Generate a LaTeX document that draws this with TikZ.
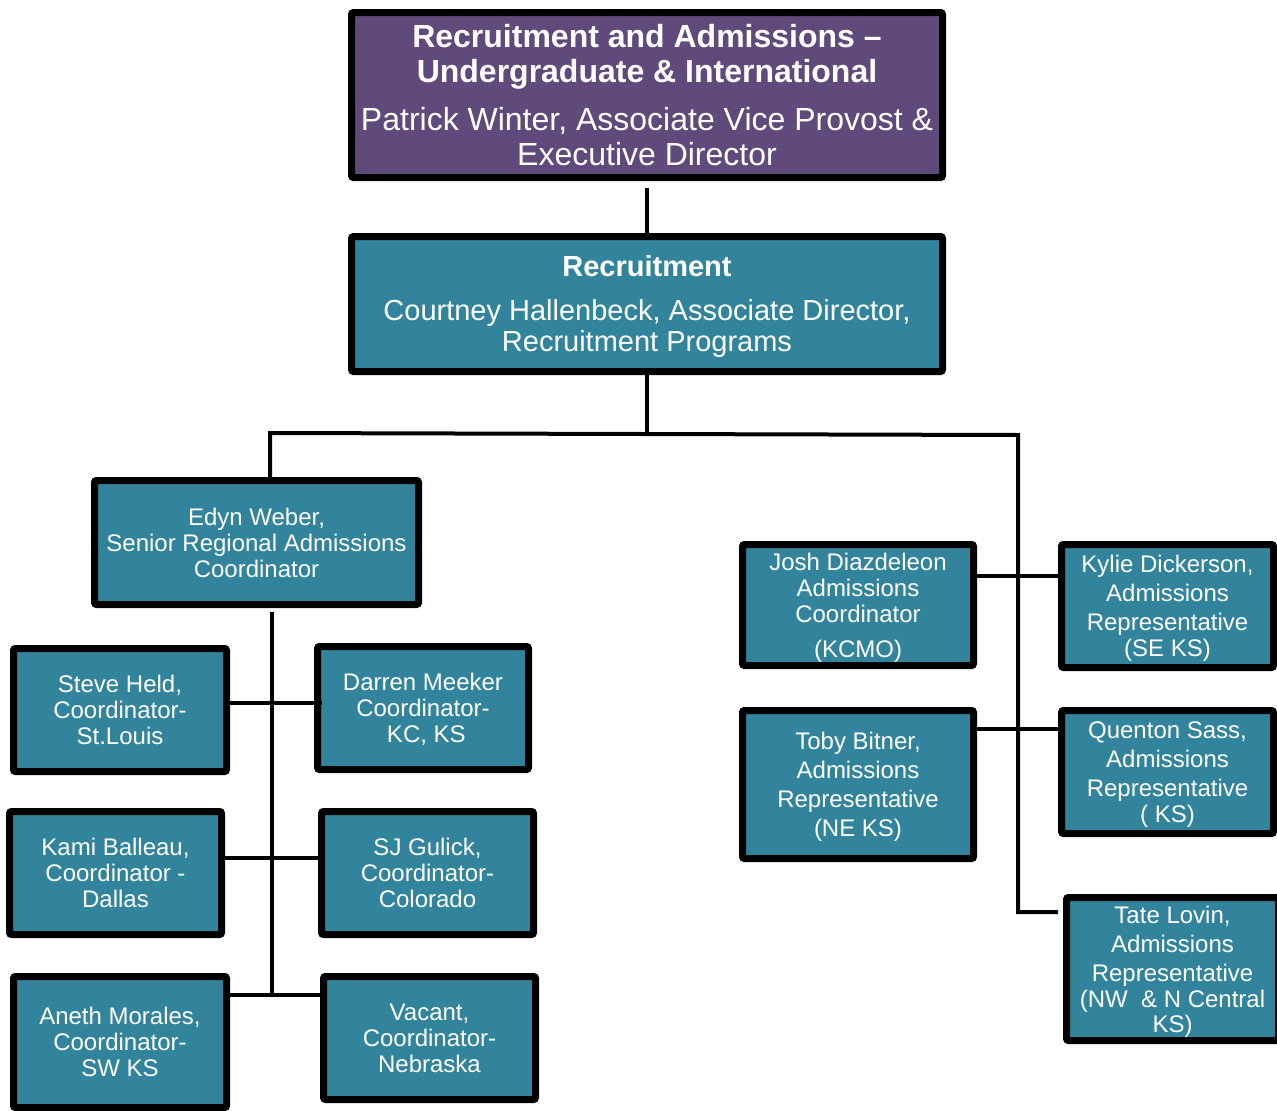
\documentclass[tikz,border=0pt]{standalone}
\usepackage{fontspec}
\setmainfont{Liberation Sans}
\definecolor{orgteal}{HTML}{31849B}
\definecolor{orgpurple}{HTML}{604A7B}
\newcommand\sttop{\rule{0pt}{.97em}}
\newcommand\stbot{\rule[-.25em]{0pt}{.25em}}
\begin{document}
\begin{tikzpicture}[x=1pt, y=-1pt,
    box/.style = {draw = black, line width = 7pt, rounded corners = 2pt, fill = orgteal,
        text = white, align = center, inner sep = 0pt},
    lbox/.style = {box, font = \fontsize{24}{26}\selectfont},
    rbox/.style = {box, font = \fontsize{24}{29}\selectfont},
    link/.style = {line width = 4pt}]
    \useasboundingbox (0,0) rectangle (1277,1111);
    \node [box, fill = orgpurple, minimum width = 591, minimum height = 165,
        font = \fontsize{32}{35}\selectfont] (head) at (647,95)
        {\sttop\textbf{Recruitment and Admissions --}\\ \textbf{Undergraduate \& International}\\[13pt]
         Patrick Winter, Associate Vice Provost \&\\ Executive Director\stbot};
    \node [box, minimum width = 591, minimum height = 135,
        font = \fontsize{29}{31}\selectfont] (recruit) at (647,304)
        {\sttop\textbf{Recruitment}\\[13pt] Courtney Hallenbeck, Associate Director,\\ Recruitment Programs\stbot};
    \node [lbox, minimum width = 324, minimum height = 124] (weber) at (256.5,542.5)
        {\sttop Edyn Weber,\\ Senior Regional Admissions\\ Coordinator\stbot};
    \node [lbox, minimum width = 213, minimum height = 123] (held) at (120,710)
        {\sttop Steve Held,\\ Coordinator-\\ St.Louis\stbot};
    \node [lbox, minimum width = 211, minimum height = 123] (meeker) at (423,708)
        {\sttop Darren Meeker\\ Coordinator-\\ \ KC, KS\stbot};
    \node [lbox, minimum width = 212, minimum height = 123] (balleau) at (115.5,873)
        {\sttop Kami Balleau,\\ Coordinator -\\ Dallas\stbot};
    \node [lbox, minimum width = 212, minimum height = 123] (gulick) at (427.5,873)
        {\sttop SJ Gulick,\\ Coordinator-\\ Colorado\stbot};
    \node [lbox, minimum width = 213, minimum height = 131] (morales) at (120,1042)
        {\sttop Aneth Morales,\\ Coordinator-\\ SW KS\stbot};
    \node [lbox, minimum width = 212, minimum height = 123] (vacant) at (429.5,1038)
        {\sttop Vacant,\\ Coordinator-\\ Nebraska\stbot};
    \node [lbox, minimum width = 231, minimum height = 121] (diaz) at (858,605)
        {\sttop Josh Diazdeleon\\ Admissions\\ Coordinator\\[9pt] (KCMO)\stbot};
    \node [rbox, minimum width = 212, minimum height = 123] (dickerson) at (1167.5,606)
        {\sttop Kylie Dickerson,\\ Admissions\\ Representative\\[-3pt] (SE KS)\stbot};
    \node [rbox, minimum width = 231, minimum height = 148] (bitner) at (858,784.5)
        {\sttop Toby Bitner,\\ Admissions\\ Representative\\ (NE KS)\stbot};
    \node [rbox, minimum width = 212, minimum height = 123] (sass) at (1167.5,772)
        {\sttop Quenton Sass,\\ Admissions\\ Representative\\[-3pt] ( KS)\stbot};
    \node [rbox, minimum width = 212, minimum height = 143] (lovin) at (1172.5,969)
        {\sttop Tate Lovin,\\ Admissions\\ Representative\\[-3pt] (NW\ \ \& N Central\\[-4pt] KS)\stbot};
    \coordinate (split) at (647,433);
    \coordinate (lsplit) at (270,433);
    \coordinate (rsplit) at (1018,435);
    \coordinate (rfoot) at (1018,912);
    \coordinate (lfoot) at (272,995);
    \draw [link] ([yshift = -7pt]head.south) -- (recruit.north);
    \draw [link] (recruit.south) -- (split);
    \draw [link] (weber.north -| lsplit) -- (lsplit) -- (rsplit) -- (rfoot) -- ++(40,0);
    \draw [link] ([yshift = -4pt]weber.south -| lfoot) -- (lfoot);
    \draw [link] (held.east |- 0,703) -- ([xshift = 8pt]meeker.west |- 0,703);
    \draw [link] (balleau.east |- 0,858) -- (gulick.west |- 0,858);
    \draw [link] (morales.east |- lfoot) -- (vacant.west |- lfoot);
    \draw [link] (diaz.east |- 0,576) -- (dickerson.west |- 0,576);
    \draw [link] (bitner.east |- 0,729) -- (sass.west |- 0,729);
\end{tikzpicture}
\end{document}
